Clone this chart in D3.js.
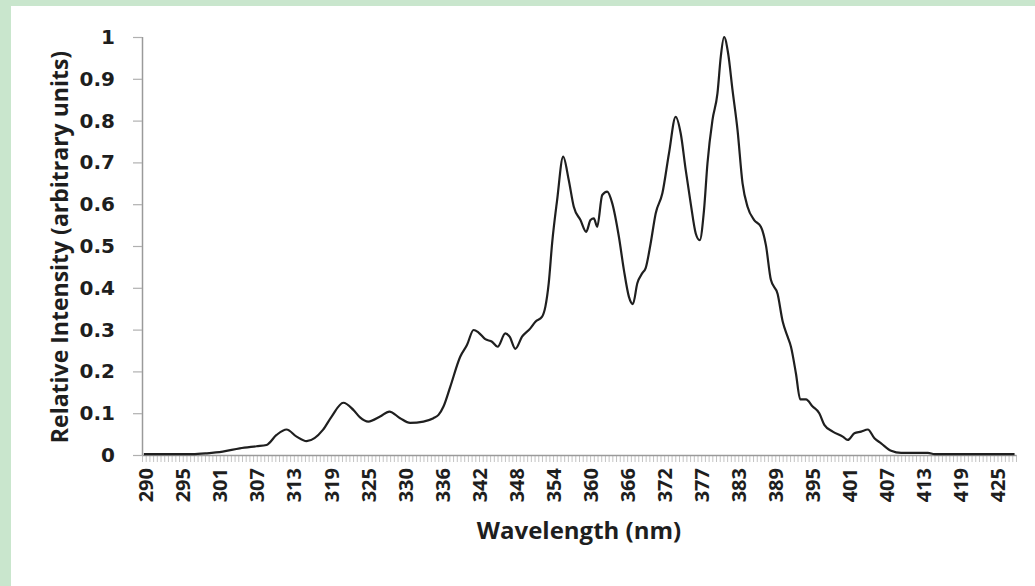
<!DOCTYPE html>
<html>
<head>
<meta charset="utf-8">
<script src="https://cdn.jsdelivr.net/npm/d3@7/dist/d3.min.js"></script>
<style>
  html, body { margin: 0; padding: 0; background: #ffffff; }
  svg { display: block; }
</style>
</head>
<body>
<svg id="chart" width="1035" height="586"></svg>
<script>
// ---- data ----
const wavelength = [
  290.0, 297.7, 300.0, 302.5, 305.2, 307.85, 309.44, 311.03, 312.62, 314.21,
  315.79, 318.38, 319.76, 321.61, 323.20, 324.26, 325.58, 327.44, 328.91, 330.61,
  332.20, 334.31, 335.90, 336.70, 337.49, 338.56, 340.14, 341.21, 342.26, 343.05,
  344.11, 345.18, 346.07, 347.29, 347.97, 348.88, 349.94, 351.26, 352.06, 353.12,
  353.64, 354.17, 354.71, 355.50, 356.46, 357.34, 358.14, 359.20, 360.11, 360.79,
  361.32, 361.85, 362.65, 363.44, 364.24, 365.29, 366.08, 366.87, 367.51, 368.21,
  369.00, 369.53, 370.32, 371.12, 372.18, 373.23, 374.29, 375.09, 375.88, 376.67,
  377.47, 378.10, 378.78, 379.33, 380.12, 380.91, 381.44, 381.96, 382.60, 383.30,
  384.09, 384.89, 385.68, 386.73, 387.79, 388.59, 389.38, 390.45, 391.24, 392.03,
  392.56, 393.35, 394.03, 394.94, 396.00, 397.05, 397.85, 399.18, 400.77, 401.56,
  402.61, 403.67, 404.74, 405.79, 406.85, 408.44, 410.03, 414.27, 415.32, 428.0
];
const intensity = [
  0.002, 0.002, 0.004, 0.008, 0.016, 0.021, 0.024, 0.048, 0.061, 0.044,
  0.033, 0.060, 0.092, 0.125, 0.108, 0.090, 0.080, 0.092, 0.104, 0.088,
  0.077, 0.080, 0.088, 0.096, 0.116, 0.163, 0.235, 0.263, 0.299, 0.293,
  0.277, 0.271, 0.259, 0.291, 0.283, 0.254, 0.283, 0.303, 0.319, 0.331,
  0.355, 0.411, 0.507, 0.610, 0.714, 0.658, 0.594, 0.562, 0.534, 0.562,
  0.566, 0.546, 0.622, 0.630, 0.602, 0.522, 0.443, 0.379, 0.361, 0.411,
  0.435, 0.447, 0.506, 0.578, 0.626, 0.722, 0.809, 0.769, 0.682, 0.602,
  0.530, 0.514, 0.586, 0.698, 0.801, 0.865, 0.953, 1.000, 0.961, 0.873,
  0.778, 0.650, 0.594, 0.562, 0.546, 0.502, 0.419, 0.385, 0.320, 0.283,
  0.259, 0.195, 0.133, 0.133, 0.116, 0.100, 0.072, 0.056, 0.044, 0.036,
  0.052, 0.056, 0.061, 0.040, 0.028, 0.010, 0.005, 0.005, 0.002, 0.002
];
const xTickLabels = ["290","295","301","307","313","319","325","330","336","342","348","354",
                     "360","366","372","377","383","389","395","401","407","413","419","425"];
const yTickValues = [0, 0.1, 0.2, 0.3, 0.4, 0.5, 0.6, 0.7, 0.8, 0.9, 1];
const yTickLabels = ["0","0.1","0.2","0.3","0.4","0.5","0.6","0.7","0.8","0.9","1"];
const startNm = 290;
const stepNm = 135 / 230;      // spacing of the category samples
const nCategories = 236;
const labelEvery = 10;
const xTitle = "Wavelength (nm)";
const yTitle = "Relative Intensity (arbitrary units)";

// ---- layout ----
const svg = d3.select("#chart");
const plot = { left: 142, right: 1016, top: 37, bottom: 455 };

// background with green frame
svg.append("rect").attr("x", 0).attr("y", 0).attr("width", 1035).attr("height", 586).attr("fill", "#c9e6cd");
svg.append("rect").attr("x", 11).attr("y", 6).attr("width", 1024).attr("height", 580).attr("fill", "#ffffff");

const x = d3.scaleLinear()
  .domain([startNm - stepNm / 2, startNm + (nCategories - 0.5) * stepNm])
  .range([plot.left, plot.right]);
const y = d3.scaleLinear().domain([0, 1]).range([plot.bottom, plot.top]);

// minor category ticks under the x axis
const boundaries = d3.range(nCategories + 1).map(k => startNm + (k - 0.5) * stepNm);
const xMinor = d3.axisBottom(x).tickValues(boundaries).tickSize(7).tickFormat("");
const gMinor = svg.append("g").attr("transform", `translate(0,${plot.bottom})`).call(xMinor);
gMinor.select(".domain").remove();
gMinor.selectAll(".tick line").attr("stroke", "#c4c4c4").attr("stroke-width", 1);

// x axis line + labels
const labelNm = xTickLabels.map((_, i) => startNm + i * labelEvery * stepNm);
const xAxis = d3.axisBottom(x).tickValues(labelNm).tickSize(0).tickFormat((d, i) => xTickLabels[i]);
const gx = svg.append("g").attr("transform", `translate(0,${plot.bottom})`).call(xAxis);
gx.select(".domain").attr("stroke", "#9a9a9a").attr("stroke-width", 1.5);
gx.selectAll(".tick text")
  .attr("transform", "rotate(-90)")
  .attr("x", -13).attr("y", 2)
  .attr("dy", "0.35em")
  .attr("text-anchor", "end")
  .attr("fill", "#1e1e1e")
  .style("font-family", "'Open Sans', sans-serif")
  .style("font-weight", "700")
  .style("font-size", "20px");

// y axis
const yAxis = d3.axisLeft(y).tickValues(yTickValues).tickSize(9).tickPadding(18)
  .tickFormat((d, i) => yTickLabels[i]);
const gy = svg.append("g").attr("transform", `translate(${plot.left},0)`).call(yAxis);
gy.select(".domain").attr("stroke", "#9a9a9a").attr("stroke-width", 1.5).attr("d", `M0.5,${plot.top}V${plot.bottom}`);
gy.selectAll(".tick line").attr("stroke", "#b0b0b0").attr("stroke-width", 1.2);
gy.selectAll(".tick text")
  .attr("fill", "#1e1e1e")
  .style("font-family", "'DejaVu Sans', sans-serif")
  .style("font-weight", "700")
  .style("font-size", "20px");

// the spectrum line
const pts = wavelength.map((w, i) => [w, intensity[i]]);
const line = d3.line().x(d => x(d[0])).y(d => y(d[1])).curve(d3.curveMonotoneX);
svg.append("path").datum(pts)
  .attr("d", line)
  .attr("fill", "none")
  .attr("stroke", "#1f1f1f")
  .attr("stroke-width", 2.2)
  .attr("stroke-linejoin", "round");

// axis titles
svg.append("text")
  .attr("x", 579).attr("y", 539)
  .attr("text-anchor", "middle")
  .attr("fill", "#1e1e1e")
  .style("font-family", "'Open Sans', sans-serif")
  .style("font-weight", "700")
  .style("font-size", "24px")
  .text(xTitle);

svg.append("text")
  .attr("transform", "translate(68,247) rotate(-90)")
  .attr("text-anchor", "middle")
  .attr("fill", "#1e1e1e")
  .style("font-family", "'Open Sans', sans-serif")
  .style("font-weight", "700")
  .style("font-size", "23px")
  .text(yTitle);
</script>
</body>
</html>
